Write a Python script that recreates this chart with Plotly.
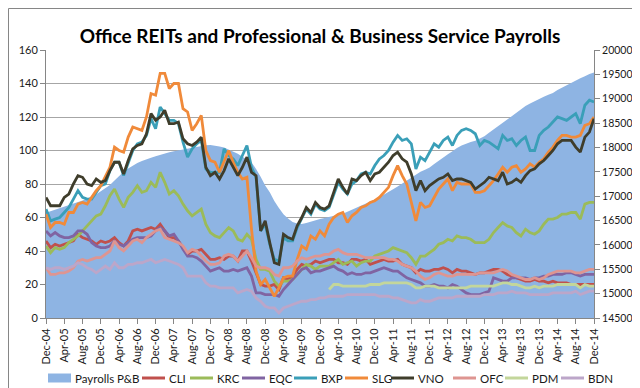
import pandas as pd
import plotly.graph_objects as go

months = list(pd.date_range("2004-12-01", periods=121, freq="MS").strftime("%b-%y"))
tick_labels = months[::4]

payrolls = [16660,16690,16720,16750,16780,16810,16840,16880,16910,16950,
            16990,17040,17100,17160,17230,17320,17420,17500,17570,17630,
            17680,17720,17760,17790,17820,17850,17880,17900,17920,17940,
            17960,17980,18000,18020,18030,18045,18050,18040,18020,18000,
            17960,17920,17870,17810,17760,17690,17560,17400,17220,17080,
            16900,16760,16630,16540,16470,16440,16430,16450,16480,16510,
            16530,16550,16570,16590,16610,16640,16680,16720,16760,16800,
            16840,16880,16930,16980,17030,17090,17140,17200,17260,17320,
            17380,17440,17500,17540,17590,17660,17730,17800,17860,17920,
            17990,18040,18080,18110,18140,18180,18230,18300,18370,18440,
            18510,18580,18650,18720,18790,18850,18900,18950,18990,19040,
            19080,19120,19180,19230,19280,19330,19380,19420,19460,19510,19540]

cli = [46,42,44,43,44,45,46,50,48,47,
       46,44,46,45,46,48,45,43,46,52,
       53,52,53,54,53,56,52,48,48,46,
       42,38,40,40,41,38,35,35,36,35,
       37,37,34,40,40,34,27,20,19,19,
       20,17,24,23,25,29,32,31,32,34,
       33,34,35,35,33,33,32,35,35,34,
       35,32,33,34,35,34,34,35,32,31,
       30,27,29,28,28,29,29,30,29,27,
       29,28,28,27,26,27,27,28,29,29,
       28,26,25,24,23,22,22,23,22,22,
       21,22,21,21,21,20,20,20,20,20,20]

krc = [43,39,42,41,42,45,47,49,52,55,
       58,61,62,67,73,77,71,66,72,75,
       79,75,76,81,78,87,81,74,76,73,
       68,64,61,63,65,56,51,49,48,51,
       54,52,47,46,50,47,35,29,29,28,
       22,19,22,22,23,26,29,32,31,29,
       31,31,31,33,35,32,33,34,31,33,
       34,34,37,38,39,40,42,41,40,39,
       36,32,37,37,39,41,44,45,47,46,
       49,48,48,47,45,45,45,47,51,54,
       57,55,54,51,49,53,51,50,52,56,
       59,59,60,62,62,63,63,59,68,69,69]

eqc = [52,49,51,49,48,48,49,52,52,50,
       45,43,42,42,43,46,44,43,45,47,
       48,48,48,49,52,54,52,49,50,46,
       41,37,37,36,34,31,28,29,30,28,
       28,29,28,29,30,25,15,15,14,14,
       14,13,17,20,23,26,29,30,27,28,
       28,29,30,31,29,28,26,27,26,26,
       27,27,28,29,30,29,28,28,26,24,
       23,22,21,19,19,20,19,19,18,20,
       19,17,15,14,14,14,15,16,24,23,
       22,22,24,24,24,24,23,24,24,25,
       25,26,26,26,27,27,26,25,26,26,26]

bxp = [65,58,59,60,63,66,71,76,72,71,
       71,75,79,80,88,93,93,85,93,100,
       104,105,109,119,113,126,122,118,118,116,
       105,96,101,104,106,89,87,87,87,101,
       97,95,91,97,103,90,84,52,56,44,
       35,34,48,46,46,54,60,65,62,68,
       65,64,66,74,81,77,74,80,82,86,
       87,86,91,95,97,100,105,109,106,107,
       104,89,96,94,99,104,102,106,108,103,
       109,112,113,112,110,103,106,105,103,101,
       109,106,107,103,106,108,100,100,109,112,
       114,117,120,119,118,120,122,116,127,130,129]

slg = [62,54,57,57,56,63,63,68,69,68,
       72,76,79,85,90,102,100,99,108,114,
       113,112,120,134,133,146,146,137,140,140,
       125,123,112,116,121,100,94,93,87,94,
       100,93,87,83,84,53,28,20,23,18,
       13,18,24,25,25,35,43,41,49,47,
       52,49,56,60,62,63,57,61,63,66,
       67,69,70,72,75,78,85,91,85,80,
       69,58,69,66,67,72,77,80,83,76,
       81,80,80,80,75,75,76,79,82,86,
       90,87,90,91,87,89,92,90,93,95,
       99,102,106,109,109,108,108,109,115,116,120]

vno = [72,67,67,67,72,74,80,85,84,80,
       79,83,81,82,88,93,93,86,94,101,
       103,104,110,122,118,120,124,116,116,117,
       107,104,103,105,108,90,85,87,83,88,
       95,90,85,90,96,87,85,52,58,45,
       33,32,50,48,47,55,60,66,63,69,
       66,65,67,75,83,78,74,83,82,85,
       87,82,86,87,90,93,97,99,95,93,
       86,76,82,76,79,81,83,84,86,82,
       83,83,82,81,77,79,81,84,83,82,
       87,80,81,83,81,85,88,89,92,94,
       97,100,104,106,106,106,102,99,108,111,119]

ofc = [30,26,26,27,27,28,30,34,35,34,
       35,36,36,38,40,46,42,40,43,46,
       47,45,48,50,52,53,48,47,46,45,
       43,39,41,40,37,34,32,32,33,37,
       38,37,34,37,40,36,31,30,30,29,
       26,25,30,30,31,34,36,35,36,37,
       37,38,38,40,41,39,38,38,38,37,
       36,36,36,36,36,35,35,34,32,31,
       30,28,25,23,24,26,27,26,25,25,
       26,26,26,26,26,27,27,27,27,28,
       29,28,26,25,24,23,23,24,23,24,
       26,27,28,28,28,28,27,27,28,29,29]

pdm = [None]*62 + [17,20,20,19,19,19,19,19,
       19,20,20,20,21,21,21,21,21,21,
       20,18,18,19,19,19,18,18,18,18,
       18,18,18,19,19,19,19,19,19,20,
       21,21,20,20,19,18,18,19,18,19,
       19,19,20,20,20,20,20,18,20,19,19]

bdn = [30,29,30,30,29,30,31,33,32,30,
       29,27,29,31,29,33,30,30,32,32,
       33,33,34,35,33,34,35,34,33,32,
       30,25,25,25,25,21,19,19,18,18,
       18,18,15,16,17,16,12,10,7,6,
       6,3,6,7,8,9,10,10,11,11,
       12,12,13,13,13,13,14,14,14,14,
       14,14,14,13,13,13,12,12,11,10,
       9,9,11,10,10,11,12,12,12,12,
       13,13,13,13,13,13,14,14,14,15,
       15,15,16,15,15,15,14,14,14,14,
       14,15,15,15,15,15,16,14,15,16,16]

area_name = "Payrolls P&B"
area_color = "#8EB4E3"
series = [
    ("CLI", cli, "#C0504D"),
    ("KRC", krc, "#9BBB59"),
    ("EQC", eqc, "#8064A2"),
    ("BXP", bxp, "#3A9FB8"),
    ("SLG", slg, "#F08A3A"),
    ("VNO", vno, "#3F3D2B"),
    ("OFC", ofc, "#DE9591"),
    ("PDM", pdm, "#C3D69B"),
    ("BDN", bdn, "#BCA6C9"),
]

# legend layout (pixel positions of the text starts, one per entry)
legend_text_x = [66, 160, 208, 260, 312, 363, 409, 471, 523, 579]
legend_y_px = 370
swatch_len, swatch_gap = 23, 3

L, R, T, B = 38, 54, 42, 78
W, H = 640, 388
PW, PH = W - L - R, H - T - B

def px2paper_x(px):
    return (px - L) / PW

def px2paper_y(py):
    return (H - B - py) / PH

FONT = "Lato"
TXT = "#1a1a1a"
fig = go.Figure()

fig.add_trace(go.Scatter(
    x=months, y=payrolls, name=area_name, mode="lines",
    line=dict(width=0, color=area_color), fill="tozeroy", fillcolor=area_color,
    yaxis="y", showlegend=False,
))

for name, vals, col in series:
    fig.add_trace(go.Scatter(
        x=months, y=vals, name=name, mode="lines",
        line=dict(width=2.8, color=col), yaxis="y2",
        showlegend=False, connectgaps=False,
    ))

# custom one-row legend (Excel style)
shapes = []
annotations = []
ly = px2paper_y(legend_y_px)
entries = [(area_name, area_color, "area")] + [(n, c, "line") for n, _, c in series]
for (name, col, kind), tx in zip(entries, legend_text_x):
    x1 = tx - swatch_gap
    x0 = x1 - swatch_len
    if kind == "area":
        shapes.append(dict(type="rect", xref="paper", yref="paper",
                           x0=px2paper_x(x0), x1=px2paper_x(x1),
                           y0=px2paper_y(legend_y_px + 4.5), y1=px2paper_y(legend_y_px - 4.5),
                           line=dict(width=0), fillcolor=col))
    else:
        shapes.append(dict(type="line", xref="paper", yref="paper",
                           x0=px2paper_x(x0), x1=px2paper_x(x1), y0=ly, y1=ly,
                           line=dict(color=col, width=3)))
    annotations.append(dict(text=name, xref="paper", yref="paper",
                            x=px2paper_x(tx - 1), y=ly, xanchor="left", yanchor="middle",
                            showarrow=False, font=dict(family=FONT, size=11.5, color=TXT)))

# chart border
shapes.append(dict(type="rect", xref="paper", yref="paper",
                   x0=px2paper_x(0.5), x1=px2paper_x(638.5),
                   y0=px2paper_y(386.5), y1=px2paper_y(0.5),
                   line=dict(color="#868686", width=1), fillcolor="rgba(0,0,0,0)",
                   layer="below"))

axis_col = "#868686"
fig.update_layout(
    width=W, height=H,
    margin=dict(l=L, r=R, t=T, b=B, autoexpand=False),
    paper_bgcolor="white", plot_bgcolor="white",
    title=dict(text="<b>Office REITs and Professional & Business Service Payrolls</b>",
               x=0.5, xref="paper", xanchor="center",
               y=1 - 28 / H, yref="container", yanchor="middle",
               font=dict(family=FONT, size=19, color="#000000")),
    showlegend=False,
    xaxis=dict(type="category", range=[0, 120], tickmode="array",
               tickvals=tick_labels, ticktext=tick_labels, tickangle=-90,
               ticks="outside", ticklen=5, tickcolor=axis_col,
               showline=True, linecolor=axis_col, linewidth=1,
               showgrid=False, zeroline=False,
               tickfont=dict(family=FONT, size=11, color=TXT)),
    yaxis=dict(side="right", range=[14500, 20000], dtick=500, tick0=14500,
               tickformat="d",
               showgrid=False, zeroline=False, ticks="outside", ticklen=5,
               tickcolor=axis_col, showline=True, linecolor=axis_col,
               ticklabelstandoff=0,
               tickfont=dict(family=FONT, size=10.5, color=TXT)),
    yaxis2=dict(overlaying="y", side="left", range=[0, 160], dtick=20,
                showgrid=True, gridcolor="#A6A6A6", gridwidth=1, zeroline=False,
                ticks="outside", ticklen=5, tickcolor=axis_col,
                showline=True, linecolor=axis_col,
                tickfont=dict(family=FONT, size=11, color=TXT)),
    shapes=shapes,
    annotations=annotations,
)

fig.write_html("out.html")
